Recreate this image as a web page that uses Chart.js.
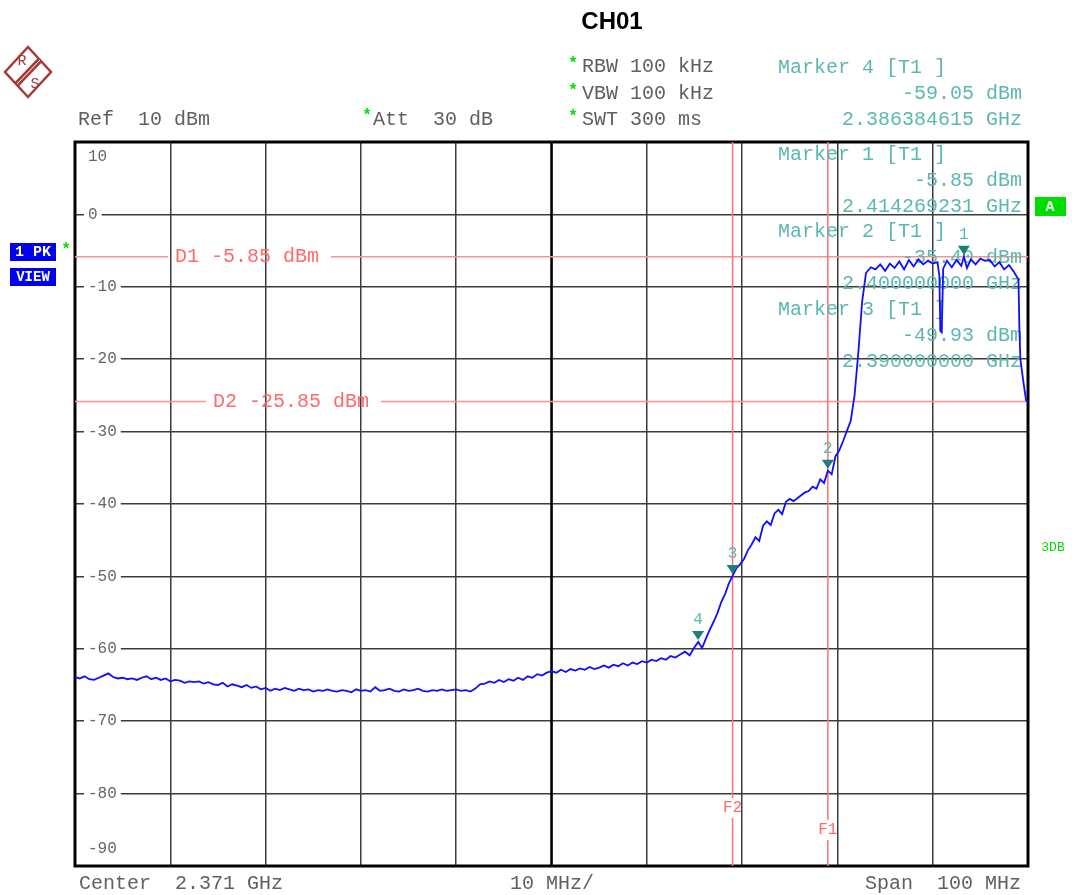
<!DOCTYPE html>
<html>
<head>
<meta charset="utf-8">
<script src="https://cdn.jsdelivr.net/npm/chart.js@4.4.1/dist/chart.umd.min.js"></script>
<style>
  body { margin: 0; background: #fff; }
  #wrap { position: relative; width: 1072px; height: 895px; }
</style>
</head>
<body>
<div id="wrap"><canvas id="spectrum"></canvas></div>
<script>
// Trace (MHz, dBm)
var freqs = [
  2321.0, 2321.5, 2322.0, 2322.5, 2323.0, 2323.5, 2324.0, 2324.5, 2325.0, 2325.5,
  2326.0, 2326.5, 2327.0, 2327.5, 2328.0, 2328.5, 2329.0, 2329.5, 2330.0, 2330.5,
  2331.0, 2331.5, 2332.0, 2332.5, 2333.0, 2333.5, 2334.0, 2334.5, 2335.0, 2335.5,
  2336.0, 2336.5, 2337.0, 2337.5, 2338.0, 2338.5, 2339.0, 2339.5, 2340.0, 2340.5,
  2341.0, 2341.5, 2342.0, 2342.5, 2343.0, 2343.5, 2344.0, 2344.5, 2345.0, 2345.5,
  2346.0, 2346.5, 2347.0, 2347.5, 2348.0, 2348.5, 2349.0, 2349.5, 2350.0, 2350.5,
  2351.0, 2351.5, 2352.0, 2352.5, 2353.0, 2353.5, 2354.0, 2354.5, 2355.0, 2355.5,
  2356.0, 2356.5, 2357.0, 2357.5, 2358.0, 2358.5, 2359.0, 2359.5, 2360.0, 2360.5,
  2361.0, 2361.5, 2362.0, 2362.5, 2363.0, 2363.5, 2364.0, 2364.5, 2365.0, 2365.5,
  2366.0, 2366.5, 2367.0, 2367.5, 2368.0, 2368.5, 2369.0, 2369.5, 2370.0, 2370.5,
  2371.0, 2371.5, 2372.0, 2372.5, 2373.0, 2373.5, 2374.0, 2374.5, 2375.0, 2375.5,
  2376.0, 2376.5, 2377.0, 2377.5, 2378.0, 2378.5, 2379.0, 2379.5, 2380.0, 2380.5,
  2381.0, 2381.5, 2382.0, 2382.5, 2383.0, 2383.5, 2384.0, 2384.5, 2385.0, 2385.5,
  2386.0, 2386.4, 2386.8, 2387.2, 2387.6, 2388.0, 2388.4, 2388.8, 2389.2, 2389.6,
  2390.0, 2390.4, 2390.8, 2391.2, 2391.6, 2392.0, 2392.4, 2392.8, 2393.2, 2393.6,
  2394.0, 2394.4, 2394.8, 2395.2, 2395.6, 2396.0, 2396.4, 2396.8, 2397.2, 2397.6,
  2398.0, 2398.4, 2398.8, 2399.2, 2399.6, 2400.0, 2400.4, 2400.8, 2401.2, 2401.6,
  2402.0, 2402.4, 2402.8, 2403.2, 2403.6, 2404.0, 2404.5, 2405.0, 2405.5, 2406.0,
  2406.5, 2407.0, 2407.5, 2408.0, 2408.5, 2409.0, 2409.5, 2410.0, 2410.5, 2411.0,
  2411.5, 2411.7, 2411.8, 2411.95, 2412.1, 2412.5, 2413.0, 2413.5, 2414.0, 2414.27,
  2414.6, 2415.0, 2415.5, 2416.0, 2416.5, 2417.0, 2417.5, 2418.0, 2418.5, 2419.0,
  2419.5, 2420.0, 2420.1, 2420.2, 2420.5, 2420.8, 2421.0
];
var levels = [
  -63.9, -64.1, -63.8, -64.2, -64.3, -64.0, -63.7, -63.4, -63.9, -64.1,
  -64.0, -64.2, -64.1, -64.3, -64.0, -63.8, -64.2, -64.0, -64.3, -64.1,
  -64.5, -64.3, -64.4, -64.7, -64.5, -64.6, -64.5, -64.8, -64.6, -64.9,
  -65.0, -64.7, -65.2, -64.9, -65.1, -65.3, -65.0, -65.4, -65.2, -65.6,
  -65.4, -65.8, -65.5, -65.7, -65.4, -65.6, -65.8, -65.5, -65.7, -65.6,
  -65.9, -65.7, -65.8, -65.6, -65.8, -65.9, -65.7, -65.8, -66.0, -65.6,
  -65.8, -65.7, -65.9, -65.3, -65.8, -65.7, -65.5, -65.8, -65.9, -65.6,
  -65.8, -65.7, -65.5, -65.8, -65.9, -65.7, -65.8, -65.6, -65.8, -65.7,
  -65.6, -65.8, -65.7, -65.9, -65.5, -64.9, -64.8, -64.5, -64.7, -64.3,
  -64.6, -64.2, -64.4, -64.0, -64.3, -63.8, -64.0, -63.5, -63.7, -63.3,
  -63.1, -63.3, -62.9, -63.2, -62.8, -63.0, -62.7, -62.9, -62.5, -62.8,
  -62.6, -62.3, -62.6, -62.2, -62.4, -62.0, -62.3, -61.9, -62.1, -61.7,
  -61.9, -61.5, -61.7, -61.3, -61.5, -61.0, -61.2, -60.8, -60.4, -60.9,
  -59.8, -59.05, -59.9, -58.6, -57.4, -56.3, -55.1, -53.6, -52.5, -51.0,
  -49.93, -48.9, -48.3, -47.6, -46.4, -45.6, -44.6, -45.1, -43.0, -42.4,
  -42.9, -41.3, -40.8, -41.4, -39.7, -39.3, -39.6, -39.2, -38.8, -38.4,
  -38.2, -37.6, -37.9, -36.6, -37.1, -35.40, -35.9, -33.4, -32.6, -31.3,
  -29.9, -28.5, -25.0, -19.0, -12.0, -8.1, -7.3, -7.6, -6.9, -7.8,
  -6.8, -7.4, -6.5, -7.6, -6.3, -7.2, -6.2, -6.9, -6.4, -6.8,
  -6.6, -8.5, -16.1, -16.3, -7.5, -6.4, -7.3, -6.3, -7.1, -5.85,
  -7.4, -6.2, -6.9, -6.1, -6.4, -6.3, -7.2, -6.6, -7.6, -7.0,
  -7.9, -9.0, -16.0, -20.0, -23.0, -25.7, -26.0
];

// markers 1..4
var markerNames = ['1', '2', '3', '4'];
var markerFreqs = [2414.269231, 2400.0, 2390.0, 2386.384615];
var markerLevels = [-5.85, -35.40, -49.93, -59.05];
var markerFreqText = ['2.414269231 GHz', '2.400000000 GHz', '2.390000000 GHz', '2.386384615 GHz'];
var markerLevelText = ['-5.85 dBm', '-35.40 dBm', '-49.93 dBm', '-59.05 dBm'];

// display lines and frequency lines
var displayLines = [-5.85, -25.85];
var displayNames = ['D1 -5.85 dBm', 'D2 -25.85 dBm'];
var freqLines = [2400.0, 2390.0];
var freqNames = ['F1', 'F2'];

// axis ticks
var xTicks = [2321, 2331, 2341, 2351, 2361, 2371, 2381, 2391, 2401, 2411, 2421];
var yTicks = [10, 0, -10, -20, -30, -40, -50, -60, -70, -80, -90];

var MONO = '"Liberation Mono", "DejaVu Sans Mono", monospace';
var GREY = '#606060';
var TEAL = '#5bb8b0';
var RED = '#ff6a6a';
var GREEN = '#00dd00';

function txt(ctx, s, x, y, font, color, align) {
  ctx.font = font;
  ctx.fillStyle = color;
  ctx.textAlign = align || 'left';
  ctx.textBaseline = 'middle';
  ctx.fillText(s, x, y);
}

// everything the analyzer draws around the trace
var analyzerPlugin = {
  id: 'analyzer',
  beforeDatasetsDraw: function(chart) {
    var ctx = chart.ctx, ca = chart.chartArea;
    var xs = chart.scales.x, ys = chart.scales.y;
    ctx.save();

    // center line and frame
    ctx.strokeStyle = '#000';
    ctx.lineWidth = 2.5;
    var cx = xs.getPixelForValue(2371);
    ctx.beginPath(); ctx.moveTo(cx, ca.top); ctx.lineTo(cx, ca.bottom); ctx.stroke();
    ctx.lineWidth = 3;
    ctx.strokeRect(ca.left, ca.top, ca.right - ca.left, ca.bottom - ca.top);

    // y labels inside the grid
    yTicks.forEach(function(v) {
      var yy = ys.getPixelForValue(v);
      if (v === 10) yy += 15;
      if (v === -90) yy -= 17;
      ctx.font = '16px ' + MONO;
      var w = ctx.measureText(String(v)).width;
      ctx.fillStyle = '#fff';
      ctx.fillRect(ca.left + 9, yy - 3, w + 8, 6);
      txt(ctx, String(v), ca.left + 13, yy, '16px ' + MONO, '#666');
    });

    // display lines D1, D2
    displayLines.forEach(function(v, i) {
      var yy = ys.getPixelForValue(v);
      var tx = i === 0 ? 175 : 213;
      ctx.font = '20px ' + MONO;
      var w = ctx.measureText(displayNames[i]).width;
      ctx.strokeStyle = '#ff9090';
      ctx.lineWidth = 1.5;
      ctx.beginPath();
      ctx.moveTo(ca.left, yy); ctx.lineTo(tx - 7, yy);
      ctx.moveTo(tx + w + 12, yy); ctx.lineTo(ca.right, yy);
      ctx.stroke();
      txt(ctx, displayNames[i], tx, yy, '20px ' + MONO, RED);
    });

    // frequency lines F1, F2
    freqLines.forEach(function(v, i) {
      var xx = xs.getPixelForValue(v);
      var ly = i === 0 ? 830 : 808;
      ctx.strokeStyle = '#ff7070';
      ctx.lineWidth = 1.5;
      ctx.beginPath();
      ctx.moveTo(xx, ca.top); ctx.lineTo(xx, ly - 10);
      ctx.moveTo(xx, ly + 10); ctx.lineTo(xx, ca.bottom);
      ctx.stroke();
      txt(ctx, freqNames[i], xx, ly, '16px ' + MONO, RED, 'center');
    });

    // marker readouts (marker 4 sits above the grid)
    var rows = [[3, 68], [0, 155], [1, 232], [2, 310]];
    rows.forEach(function(r) {
      var m = r[0], y0 = r[1];
      txt(ctx, 'Marker ' + markerNames[m] + ' [T1 ]', 778, y0, '20px ' + MONO, TEAL);
      txt(ctx, markerLevelText[m], 1022, y0 + 26, '20px ' + MONO, TEAL, 'right');
      txt(ctx, markerFreqText[m], 1022, y0 + 52, '20px ' + MONO, TEAL, 'right');
    });
    ctx.restore();
  },
  afterDatasetsDraw: function(chart) {
    var ctx = chart.ctx;
    var xs = chart.scales.x, ys = chart.scales.y;
    ctx.save();
    markerFreqs.forEach(function(f, i) {
      var xx = xs.getPixelForValue(f);
      var yy = ys.getPixelForValue(markerLevels[i]) - 2;
      ctx.fillStyle = '#1d7f75';
      ctx.beginPath();
      ctx.moveTo(xx - 6, yy - 9); ctx.lineTo(xx + 6, yy - 9); ctx.lineTo(xx, yy);
      ctx.closePath(); ctx.fill();
      txt(ctx, markerNames[i], xx, yy - 20, '16px ' + MONO, TEAL, 'center');
    });
    ctx.restore();
  },
  afterDraw: function(chart) {
    var ctx = chart.ctx;
    ctx.save();
    // title
    txt(ctx, 'CH01', 612, 22, 'bold 24px "Liberation Sans", Arial, sans-serif', '#000', 'center');

    // R&S logo
    ctx.strokeStyle = '#a33a3a';
    ctx.lineWidth = 2.5;
    ctx.beginPath();
    ctx.moveTo(5, 72); ctx.lineTo(28, 47); ctx.lineTo(51, 72); ctx.lineTo(28, 97); ctx.closePath();
    ctx.stroke();
    ctx.lineWidth = 6;
    ctx.beginPath(); ctx.moveTo(40, 60); ctx.lineTo(17, 84); ctx.stroke();
    ctx.strokeStyle = '#fff';
    ctx.lineWidth = 1;
    ctx.beginPath(); ctx.moveTo(40, 60); ctx.lineTo(17, 84); ctx.stroke();
    txt(ctx, 'R', 22, 61, '15px ' + MONO, '#a33a3a', 'center');
    txt(ctx, 'S', 35, 84, '15px ' + MONO, '#a33a3a', 'center');

    // settings
    var f20 = '20px ' + MONO;
    txt(ctx, 'Ref  10 dBm', 78, 120, f20, GREY);
    txt(ctx, '*', 367, 116, 'bold 16px ' + MONO, GREEN, 'center');
    txt(ctx, 'Att  30 dB', 373, 120, f20, GREY);
    [['RBW 100 kHz', 67], ['VBW 100 kHz', 94], ['SWT 300 ms', 120]].forEach(function(s) {
      txt(ctx, '*', 573, s[1] - 3, 'bold 16px ' + MONO, GREEN, 'center');
      txt(ctx, s[0], 582, s[1], f20, GREY);
    });
    txt(ctx, 'Center  2.371 GHz', 79, 884, f20, GREY);
    txt(ctx, '10 MHz/', 510, 884, f20, GREY);
    txt(ctx, 'Span  100 MHz', 1021, 884, f20, GREY, 'right');

    // trace info boxes
    ctx.fillStyle = '#0000ee';
    ctx.fillRect(10, 243, 46, 18);
    ctx.fillRect(10, 268, 46, 18);
    txt(ctx, '1 PK', 33, 252, 'bold 15px ' + MONO, '#fff', 'center');
    txt(ctx, 'VIEW', 33, 277, 'bold 14px ' + MONO, '#fff', 'center');
    txt(ctx, '*', 66, 250, 'bold 16px ' + MONO, GREEN, 'center');
    ctx.fillStyle = GREEN;
    ctx.fillRect(1035, 197, 31, 19);
    txt(ctx, 'A', 1050, 207, 'bold 15px ' + MONO, '#fff', 'center');
    txt(ctx, '3DB', 1053, 548, '13px ' + MONO, GREEN, 'center');
    ctx.restore();
  }
};

var ctx = document.getElementById('spectrum').getContext('2d');
var points = freqs.map(function(f, i) { return { x: f, y: levels[i] }; });

var chart = new Chart(ctx, {
  type: 'line',
  data: {
    datasets: [{
      label: 'Trace 1',
      data: points,
      borderColor: '#1010ff',
      borderWidth: 1.8,
      pointRadius: 0,
      tension: 0
    }]
  },
  options: {
    responsive: true,
    maintainAspectRatio: false,
    animation: false,
    layout: { padding: { left: 75, top: 142, right: 44, bottom: 29 } },
    plugins: { legend: { display: false }, tooltip: { enabled: false } },
    scales: {
      x: {
        type: 'linear',
        min: 2321,
        max: 2421,
        afterBuildTicks: function(axis) {
          axis.ticks = xTicks.map(function(v) { return { value: v }; });
        },
        ticks: { display: false },
        border: { display: false },
        grid: { color: '#3c3c3c', lineWidth: 1.5, drawTicks: false }
      },
      y: {
        min: -90,
        max: 10,
        afterBuildTicks: function(axis) {
          axis.ticks = yTicks.map(function(v) { return { value: v }; });
        },
        ticks: { display: false },
        border: { display: false },
        grid: { color: '#3c3c3c', lineWidth: 1.5, drawTicks: false }
      }
    }
  },
  plugins: [analyzerPlugin]
});
</script>
</body>
</html>
